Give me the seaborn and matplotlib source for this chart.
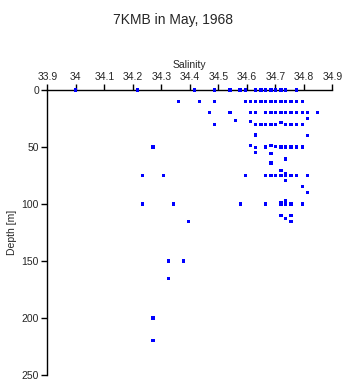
import matplotlib
matplotlib.use("Agg")
import matplotlib.pyplot as plt
import seaborn as sns
import pandas as pd

salinity = [
    34.00, 34.216, 34.416, 34.486, 34.541, 34.576, 34.594, 34.632, 34.650, 34.667, 34.685, 34.702, 34.720, 34.737, 34.775,
    34.361, 34.433, 34.486, 34.594, 34.612, 34.632, 34.650, 34.667, 34.685, 34.702, 34.720, 34.737, 34.755, 34.775, 34.794,
    34.468, 34.541, 34.612, 34.632, 34.667, 34.685, 34.702, 34.720, 34.737, 34.755, 34.775, 34.794, 34.812, 34.847,
    34.812, 34.560,
    34.486, 34.612, 34.632, 34.650, 34.667, 34.685, 34.702, 34.720, 34.737, 34.755, 34.775, 34.794,
    34.632, 34.812,
    34.271, 34.612, 34.632, 34.667, 34.685, 34.702, 34.720, 34.737, 34.755, 34.775, 34.794,
    34.632, 34.685, 34.737, 34.685, 34.720,
    34.233, 34.307, 34.594, 34.667, 34.685, 34.702, 34.720, 34.737, 34.755, 34.775, 34.812,
    34.737, 34.737, 34.794, 34.812,
    34.233, 34.342, 34.577, 34.667, 34.720, 34.737, 34.755, 34.794,
    34.720, 34.737,
    34.720, 34.755, 34.737, 34.397, 34.755,
    34.325, 34.379, 34.325, 34.271, 34.271,
]
depth = [
    0, 0, 0, 0, 0, 0, 0, 0, 0, 0, 0, 0, 0, 0, 0,
    10, 10, 10, 10, 10, 10, 10, 10, 10, 10, 10, 10, 10, 10, 10,
    20, 20, 20, 20, 20, 20, 20, 20, 20, 20, 20, 20, 20, 20,
    25, 27,
    30, 28, 30, 30, 30, 30, 30, 28.5, 30, 30, 30, 30,
    39.5, 40,
    50, 49, 50.5, 50, 49, 49.5, 50, 50, 50, 50, 50,
    54.5, 56, 60.5, 64, 71,
    75, 75, 75, 75, 75, 75, 75, 75, 75, 75, 75,
    73.5, 79, 85, 90,
    100, 100, 100, 100, 100, 100, 100, 100,
    98.5, 97,
    110, 110, 113, 115, 115,
    150, 150, 165, 200, 220,
]

xticks = [33.9, 34.0, 34.1, 34.2, 34.3, 34.4, 34.5, 34.6, 34.7, 34.8, 34.9]
xticklabels = ["33.9", "34", "34.1", "34.2", "34.3", "34.4", "34.5", "34.6", "34.7", "34.8", "34.9"]
yticks = [0, 50, 100, 150, 200, 250]

df = pd.DataFrame({"Salinity": salinity, "Depth": depth})

sns.set_style("white")
plt.rcParams["font.family"] = ["Liberation Sans", "DejaVu Sans"]

fig = plt.figure(figsize=(3.46, 3.84), dpi=100)
ax = fig.add_axes([47.3 / 346, 9 / 384, 285 / 346, 285 / 384])
sns.scatterplot(data=df, x="Salinity", y="Depth", ax=ax, marker="s", s=5,
                color="#0000ff", edgecolor="none", linewidth=0, zorder=4, clip_on=False,
                antialiased=False)

ax.set_xlim(33.9, 34.9)
ax.set_ylim(250, 0)
ax.xaxis.tick_top()
ax.xaxis.set_label_position("top")
ax.set_xticks(xticks)
ax.set_xticklabels(xticklabels)
ax.set_yticks(yticks)
ax.set_xlabel("Salinity", fontsize=7.5, labelpad=3)
ax.set_ylabel("Depth [m]", fontsize=7.5, labelpad=3)
ax.tick_params(axis="both", labelsize=7.5, length=4, width=1, direction="out", color="black", pad=2)
ax.tick_params(axis="x", top=True, bottom=False)
ax.tick_params(axis="y", left=True, right=False)
for side in ["right", "bottom"]:
    ax.spines[side].set_visible(False)
for side in ["left", "top"]:
    ax.spines[side].set_color("black")
    ax.spines[side].set_linewidth(1)

fig.text(0.5, 1 - 20 / 384, "7KMB in May, 1968", ha="center", va="center", fontsize=10)

fig.savefig("out.png", dpi=100)
